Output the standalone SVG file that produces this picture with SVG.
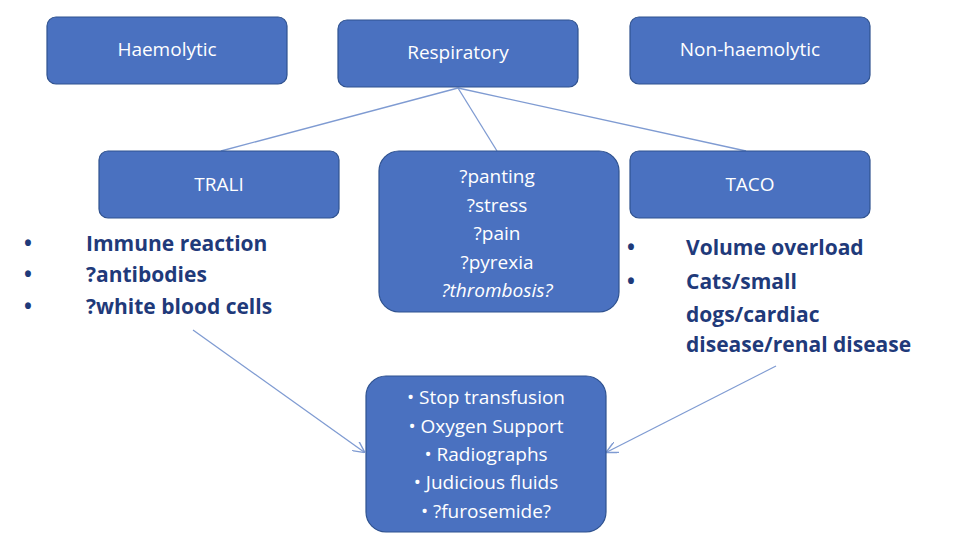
<svg xmlns="http://www.w3.org/2000/svg" width="974" height="548" viewBox="0 0 974 548">
<style>
.box{fill:#4a71c0;stroke:#2f528f;stroke-width:1.2}
.w{fill:#fff;font-family:"Open Sans","Liberation Sans",sans-serif;font-size:19px;text-anchor:middle}
.b{fill:#1f3a7a;font-family:"Open Sans","Liberation Sans",sans-serif;font-size:21px;font-weight:bold}
.c{stroke:#7f9bd2;stroke-width:1.3;fill:none}
</style>
<defs><marker id="a" viewBox="0 0 10 10" refX="9" refY="5" markerWidth="9" markerHeight="9" orient="auto"><path d="M0,0L10,5L0,10" fill="none" stroke="#7f9bd2" stroke-width="1.2"/></marker></defs>
<rect width="974" height="548" fill="#fff"/>
<g id="connectors">
<line class="c" x1="458" y1="88" x2="221" y2="151"/>
<line class="c" x1="458" y1="88" x2="497" y2="151"/>
<line class="c" x1="458" y1="88" x2="746" y2="151"/>
<line class="c" x1="193" y1="330" x2="364" y2="452" marker-end="url(#a)"/>
<line class="c" x1="776" y1="366" x2="607" y2="452" marker-end="url(#a)"/>
</g>
<g id="haemolytic"><rect class="box" x="47" y="17" width="240" height="67" rx="9"/><text class="w" x="167" y="56">Haemolytic</text></g>
<g id="respiratory"><rect class="box" x="338" y="20" width="240" height="67" rx="9"/><text class="w" x="458" y="59">Respiratory</text></g>
<g id="nonhaemolytic"><rect class="box" x="630" y="17" width="240" height="67" rx="9"/><text class="w" x="750" y="56">Non-haemolytic</text></g>
<g id="trali"><rect class="box" x="99" y="151" width="240" height="67" rx="9"/><text class="w" x="219" y="191">TRALI</text></g>
<g id="taco"><rect class="box" x="630" y="151" width="240" height="67" rx="9"/><text class="w" x="750" y="191">TACO</text></g>
<g id="signs"><rect class="box" x="379" y="151" width="240" height="161" rx="20"/>
<text class="w" x="497" y="183">?panting</text><text class="w" x="497" y="212">?stress</text><text class="w" x="497" y="240">?pain</text><text class="w" x="497" y="269">?pyrexia</text><text class="w" x="497" y="297" font-style="italic">?thrombosis?</text></g>
<g id="treatment"><rect class="box" x="366" y="376" width="240" height="156" rx="20"/>
<g class="w"><text x="486" y="404">•   Stop transfusion</text><text x="486" y="433">•   Oxygen Support</text><text x="486" y="461">•   Radiographs</text><text x="486" y="489">•   Judicious fluids</text><text x="486" y="518">•   ?furosemide?</text></g></g>
<g id="trali-notes" class="b">
<text x="24" y="251">•</text><text x="86" y="251">Immune reaction</text>
<text x="24" y="282">•</text><text x="86" y="282">?antibodies</text>
<text x="24" y="314">•</text><text x="86" y="314">?white blood cells</text></g>
<g id="taco-notes" class="b">
<text x="627" y="255">•</text><text x="686" y="255">Volume overload</text>
<text x="627" y="289">•</text><text x="686" y="289">Cats/small</text>
<text x="686" y="322">dogs/cardiac</text>
<text x="686" y="352">disease/renal disease</text></g>
</svg>
